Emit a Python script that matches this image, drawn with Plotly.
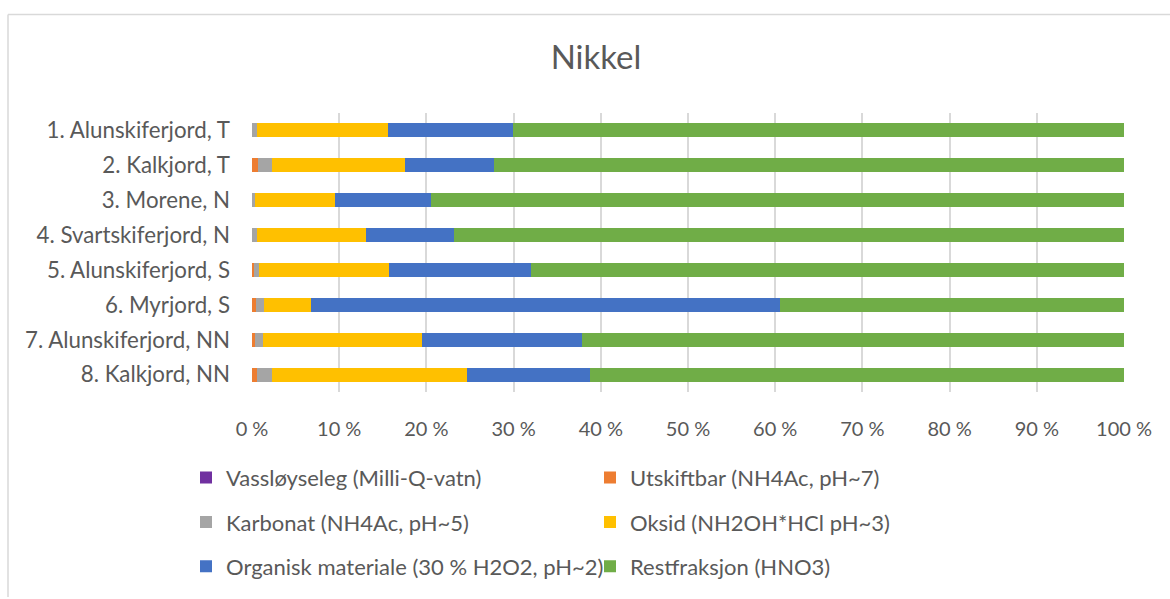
import plotly.graph_objects as go

# Sample sites (top to bottom)
sites = [
    "1. Alunskiferjord, T",
    "2. Kalkjord, T",
    "3. Morene, N",
    "4. Svartskiferjord, N",
    "5. Alunskiferjord, S",
    "6. Myrjord, S",
    "7. Alunskiferjord, NN",
    "8. Kalkjord, NN",
]

# Share of nickel in each fraction (%)
vassloyseleg = [0.02, 0.02, 0.02, 0.02, 0.02, 0.02, 0.02, 0.02]
utskiftbar = [0.03, 0.62, 0.03, 0.03, 0.20, 0.46, 0.34, 0.57]
karbonat = [0.50, 1.68, 0.28, 0.50, 0.57, 0.92, 0.92, 1.69]
oksid = [15.03, 15.22, 9.21, 12.51, 14.95, 5.36, 18.21, 22.38]
organisk = [14.35, 10.22, 11.02, 10.13, 16.23, 53.82, 18.40, 14.15]
restfraksjon = [70.07, 72.24, 79.44, 76.81, 68.03, 39.42, 62.11, 61.19]

fractions = [
    ("Vassløyseleg (Milli-Q-vatn)", vassloyseleg, "#7030A0", "legend"),
    ("Utskiftbar (NH4Ac, pH~7)", utskiftbar, "#ED7D31", "legend"),
    ("Karbonat (NH4Ac, pH~5)", karbonat, "#A5A5A5", "legend2"),
    ("Oksid (NH2OH*HCl pH~3)", oksid, "#FFC000", "legend2"),
    ("Organisk materiale (30 % H2O2, pH~2)", organisk, "#4472C4", "legend3"),
    ("Restfraksjon (HNO3)", restfraksjon, "#70AD47", "legend3"),
]

FONT = "Lato"
GREY_TEXT = "#595959"

fig = go.Figure()
for name, values, color, leg in fractions:
    fig.add_trace(go.Bar(
        y=sites,
        x=values,
        name=name,
        orientation="h",
        marker=dict(color=color, line=dict(width=0)),
        legend=leg,
    ))

W, H = 1170, 599
ML, MR, MT, MB = 252, 46, 113, 203
PW, PH = W - ML - MR, H - MT - MB


def px_x(x):
    return (x - ML) / PW


def px_y(y):
    return (H - MB - y) / PH


legend_common = dict(
    orientation="h",
    xanchor="left",
    yanchor="middle",
    x=px_x(186),
    entrywidth=359,
    entrywidthmode="pixels",
    bgcolor="rgba(0,0,0,0)",
    font=dict(family=FONT, size=22, color=GREY_TEXT),
    traceorder="normal",
)

fig.update_layout(
    width=W,
    height=H,
    margin=dict(l=ML, r=MR, t=MT, b=MB),
    paper_bgcolor="white",
    plot_bgcolor="white",
    barmode="stack",
    bargap=0.6,
    font=dict(family=FONT, color=GREY_TEXT),
    title=dict(
        text="Nikkel",
        font=dict(family=FONT, size=33, color=GREY_TEXT),
        xref="container",
        yref="container",
        x=596 / W,
        y=1 - 57 / H,
        xanchor="center",
        yanchor="middle",
    ),
    xaxis=dict(
        range=[0, 100],
        dtick=10,
        ticksuffix=" %",
        showgrid=True,
        gridcolor="#d9d9d9",
        gridwidth=1.5,
        zeroline=False,
        showline=False,
        ticks="",
        ticklabelstandoff=23,
        tickfont=dict(family=FONT, size=20, color=GREY_TEXT),
        fixedrange=True,
    ),
    yaxis=dict(
        autorange="reversed",
        showgrid=False,
        zeroline=False,
        showline=False,
        ticks="",
        ticklabelstandoff=21,
        tickfont=dict(family=FONT, size=22.3, color=GREY_TEXT),
        fixedrange=True,
    ),
    legend=dict(legend_common, y=px_y(483)),
    legend2=dict(legend_common, y=px_y(528)),
    legend3=dict(legend_common, y=px_y(573)),
    shapes=[
        # chart frame (left and top edges)
        dict(type="line", xref="paper", yref="paper",
             x0=px_x(8), x1=px_x(8), y0=px_y(13), y1=px_y(H + 5),
             line=dict(color="#d9d9d9", width=1.5)),
        dict(type="line", xref="paper", yref="paper",
             x0=px_x(8), x1=px_x(W + 5), y0=px_y(13), y1=px_y(13),
             line=dict(color="#d9d9d9", width=1.5)),
    ],
)

fig.write_html("out.html")
